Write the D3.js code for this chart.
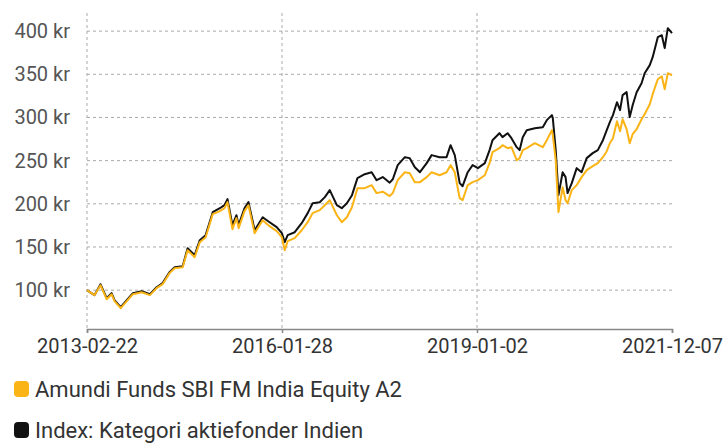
<!DOCTYPE html>
<html>
<head>
<meta charset="utf-8">
<script src="https://cdn.jsdelivr.net/npm/d3@7"></script>
<style>
  body { margin: 0; background: #fff; }
  text { font-family: Roboto, "DejaVu Sans", sans-serif; fill: #333; }
</style>
</head>
<body>
<div id="chart"></div>
<script>
// values
var dates = [
  "2013-02-22","2013-04-04","2013-05-07","2013-06-10","2013-07-07","2013-07-23","2013-08-26","2013-09-28",
  "2013-11-01","2013-12-19","2014-02-02","2014-03-11","2014-04-13","2014-05-21","2014-06-18","2014-08-01",
  "2014-08-28","2014-10-06","2014-11-03","2014-12-05","2015-01-13","2015-02-21","2015-03-18","2015-04-04",
  "2015-05-01","2015-05-23","2015-06-04","2015-07-06","2015-07-28","2015-08-31","2015-10-14","2015-11-21",
  "2015-12-30","2016-01-27","2016-02-12","2016-02-28","2016-04-07","2016-05-15","2016-06-17","2016-07-14",
  "2016-08-22","2016-09-19","2016-10-16","2016-11-24","2016-12-21","2017-01-18","2017-02-15","2017-03-17",
  "2017-04-26","2017-06-03","2017-06-30","2017-08-03","2017-09-10","2017-09-27","2017-10-24","2017-12-02",
  "2017-12-29","2018-01-26","2018-02-23","2018-04-01","2018-04-28","2018-06-11","2018-07-19","2018-08-10",
  "2018-09-02","2018-09-29","2018-10-15","2018-11-12","2018-12-09","2019-01-07","2019-02-14","2019-03-12",
  "2019-03-28","2019-05-05","2019-05-22","2019-06-19","2019-07-10","2019-08-08","2019-08-24","2019-09-10",
  "2019-10-02","2019-11-15","2019-12-29","2020-01-20","2020-02-17","2020-02-22","2020-03-09","2020-03-24",
  "2020-04-16","2020-05-02","2020-05-13","2020-06-05","2020-07-02","2020-07-29","2020-08-26","2020-09-28",
  "2020-10-26","2020-11-23","2020-12-14","2020-12-31","2021-01-17","2021-02-08","2021-02-25","2021-03-11",
  "2021-04-02","2021-04-19","2021-05-05","2021-05-27","2021-06-23","2021-07-10","2021-08-07","2021-08-23",
  "2021-09-20","2021-10-12","2021-10-28","2021-11-14","2021-12-07"
];

var indexValues = [
  100, 94.2, 106.9, 90.7, 96.5, 88.5, 80.3, 88.5,
  96.5, 98.8, 95.3, 103.4, 108.1, 120.9, 126.6, 127.8,
  148.6, 140.5, 157.9, 163.7, 190.3, 194.9, 198.4, 205.4,
  175.3, 186.8, 175.3, 194.9, 201.9, 169.4, 184.5, 178.7,
  173.0, 166.0, 155.6, 163.7, 167.1, 177.6, 189.2, 200.7,
  201.9, 207.7, 215.8, 198.4, 194.9, 200.7, 210.0, 229.7,
  234.3, 236.6, 227.4, 231.0, 224.5, 228.4, 244.8, 254.0,
  252.9, 242.4, 236.6, 247.1, 256.4, 254.0, 254.0, 267.9,
  256.4, 223.9, 220.4, 236.6, 244.8, 241.3, 247.1, 262.2,
  273.7, 281.8, 277.2, 281.8, 276.0, 265.6, 262.2, 277.2,
  285.3, 287.6, 288.8, 296.9, 302.7, 299.2, 262.2, 210.0,
  236.6, 230.9, 212.4, 223.9, 241.3, 236.6, 252.9, 258.7,
  262.2, 273.7, 285.3, 294.5, 302.7, 317.7, 308.5, 325.9,
  329.3, 300.4, 314.2, 329.3, 339.7, 351.3, 360.6, 369.8,
  393.0, 395.3, 380.3, 403.4, 397.6
];

var fundValues = [
  100, 94.2, 105.7, 89.5, 95.3, 87.2, 79.1, 87.2,
  95.3, 97.6, 94.2, 102.3, 106.9, 119.7, 125.4, 126.6,
  146.3, 138.2, 155.6, 161.3, 188.0, 191.5, 194.9, 201.9,
  170.6, 183.4, 171.8, 191.5, 198.4, 166.0, 181.0, 174.1,
  168.3, 161.3, 146.3, 156.7, 160.2, 169.4, 178.7, 189.2,
  192.7, 198.4, 204.2, 186.8, 178.7, 184.5, 196.1, 218.1,
  218.1, 221.6, 212.4, 214.0, 209.0, 212.5, 227.4, 236.6,
  235.5, 225.1, 225.1, 230.9, 236.6, 233.1, 236.6, 244.8,
  236.6, 206.5, 204.2, 221.6, 225.1, 227.4, 233.1, 247.1,
  259.8, 264.4, 267.9, 264.4, 265.6, 250.5, 252.9, 262.2,
  264.4, 270.2, 265.6, 273.7, 285.3, 279.5, 250.5, 190.3,
  219.3, 204.2, 200.7, 215.8, 221.6, 230.9, 239.0, 243.6,
  247.1, 254.0, 260.9, 270.2, 276.0, 295.7, 284.1, 298.0,
  286.4, 270.2, 280.6, 286.4, 298.0, 303.8, 315.4, 327.0,
  344.3, 347.8, 332.7, 351.3, 348.9
];

var yTicks = [100, 150, 200, 250, 300, 350, 400];
var xTicks = ["2013-02-22", "2016-01-28", "2019-01-02", "2021-12-07"];
var seriesNames = ["Amundi Funds SBI FM India Equity A2", "Index: Kategori aktiefonder Indien"];
var seriesColors = ["#fbb415", "#111111"];

var W = 727, H = 444;
var margin = { top: 13, right: 55, bottom: 115, left: 87 };
var width = W - margin.left - margin.right,
    height = H - margin.top - margin.bottom;

var parse = d3.timeParse("%Y-%m-%d");
var fmt = d3.timeFormat("%Y-%m-%d");

var svg = d3.select("#chart")
  .append("svg")
  .attr("width", W)
  .attr("height", H)
  .append("g")
  .attr("transform", "translate(" + margin.left + "," + margin.top + ")");

var x = d3.scaleTime()
  .domain([parse(xTicks[0]), parse(xTicks[3])])
  .range([0, width]);

var y = d3.scaleLinear()
  .domain([55, 421])
  .range([height, 0]);

// horizontal grid
svg.selectAll(".hgrid")
  .data(yTicks)
  .enter()
  .append("line")
    .attr("x1", 0)
    .attr("x2", width)
    .attr("y1", function(d) { return y(d); })
    .attr("y2", function(d) { return y(d); })
    .attr("stroke", "#aaa")
    .attr("stroke-width", 1)
    .style("stroke-dasharray", "3,3");

// vertical grid
svg.selectAll(".vgrid")
  .data(xTicks.slice(0, 3))
  .enter()
  .append("line")
    .attr("x1", function(d) { return x(parse(d)); })
    .attr("x2", function(d) { return x(parse(d)); })
    .attr("y1", 0)
    .attr("y2", height)
    .attr("stroke", "#aaa")
    .attr("stroke-width", 1)
    .style("stroke-dasharray", "3,3");

// y labels
svg.selectAll(".ylab")
  .data(yTicks)
  .enter()
  .append("text")
    .attr("x", -17)
    .attr("y", function(d) { return y(d); })
    .attr("dy", "0.35em")
    .attr("text-anchor", "end")
    .style("font-size", "20px")
    .style("fill", "#555")
    .text(function(d) { return d + " kr"; });

// x axis
var xAxis = d3.axisBottom(x)
  .tickValues(xTicks.map(parse))
  .tickFormat(fmt)
  .tickSize(4)
  .tickPadding(6);

var gx = svg.append("g")
  .attr("transform", "translate(0," + height + ")")
  .call(xAxis);
gx.select(".domain").attr("stroke", "#888").attr("stroke-width", 1.5);
gx.selectAll(".tick line").attr("stroke", "#888").attr("stroke-width", 1.5);
gx.selectAll(".tick text")
  .style("font-size", "20px")
  .style("font-family", "Roboto, sans-serif")
  .attr("fill", "#333");

var line = d3.line()
  .x(function(d, i) { return x(parse(dates[i])); })
  .y(function(d) { return y(d); });

svg.append("path")
  .datum(indexValues)
  .attr("fill", "none")
  .attr("stroke", seriesColors[1])
  .attr("stroke-width", 2)
  .attr("stroke-linejoin", "round")
  .attr("d", line);

svg.append("path")
  .datum(fundValues)
  .attr("fill", "none")
  .attr("stroke", seriesColors[0])
  .attr("stroke-width", 2)
  .attr("stroke-linejoin", "round")
  .attr("d", line);

// legend
var legend = d3.select("svg").append("g");
seriesNames.forEach(function(name, i) {
  var ly = 389 + i * 41;
  legend.append("rect")
    .attr("x", 14)
    .attr("y", ly - 8)
    .attr("width", 15)
    .attr("height", 16)
    .attr("rx", 4)
    .attr("fill", seriesColors[i]);
  legend.append("text")
    .attr("x", 35)
    .attr("y", ly)
    .attr("dy", "0.35em")
    .style("font-size", "22px")
    .text(name);
});
</script>
</body>
</html>
